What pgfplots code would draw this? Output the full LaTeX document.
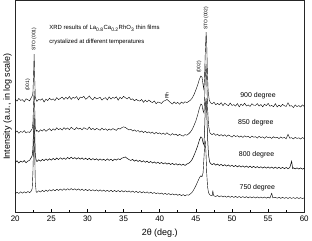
\documentclass[border=0pt]{standalone}
\usepackage{pgfplots}
\pgfplotsset{compat=1.18}
\usepackage{fontspec}
\setmainfont{Liberation Sans}
\begin{document}
\begin{tikzpicture}
\begin{axis}[
  scale only axis, width=290pt, height=213pt,
  xmin=20, xmax=60, ymin=0, ymax=213,
  xtick={20,25,...,60}, minor x tick num=1,
  ytick=\empty,
  xtick pos=bottom, tick align=inside,
  major tick length=4pt, minor tick length=3pt,
  tick style={black, line width=0.6pt},
  axis line style={line width=0.6pt, black!85},
  ticklabel style={font=\fontsize{8}{9}\selectfont},
  /pgf/number format/assume math mode=true,
  xlabel={2θ (deg.)},
  xlabel style={font=\fontsize{9}{10}\selectfont},
  ylabel={Intensity (a.u., in log scale)},
  ylabel style={font=\fontsize{9}{10}\selectfont},
  cycle list={{black, mark=none, line width=0.5pt, line join=round}},
]
% 900 degree
\addplot coordinates {
(20.00,113.8)(20.25,111.8)(20.50,114.5)(20.75,112.6)(21.00,113.3)(21.25,111.2)(21.50,114.1)(21.75,113.2)(22.00,112.1)
(22.20,115.0)(22.35,117)(22.45,120)(22.55,140)(22.62,159)(22.70,135)(22.78,116)(22.90,113)
(23.00,111.6)(23.25,113.6)(23.50,112.8)(23.75,114.3)(24.00,110.9)(24.25,113.9)(24.50,112.4)(24.75,114.7)(25.00,113.0)
(25.25,114.1)(25.50,112.5)(25.75,115.4)(26.00,113.4)(26.25,114.6)(26.50,115.9)(26.75,113.5)(27.00,115.7)(27.25,114.0)
(27.50,116.5)(27.75,113.6)(28.00,115.7)(28.25,114.7)(28.50,116.4)(28.75,113.1)(29.00,115.9)(29.25,115.3)(29.50,116.6)
(29.75,113.7)(30.00,115.0)(30.25,117.0)(30.50,114.5)(30.75,113.2)(31.00,115.8)(31.25,114.1)(31.50,114.8)(31.75,115.6)
(32.00,112.9)(32.25,114.5)(32.50,115.3)(32.75,113.0)(33.00,116.1)(33.25,113.9)(33.50,115.5)(33.75,114.7)(34.00,116.2)
(34.25,112.8)(34.50,115.7)(34.75,114.3)(35.00,116.6)(35.25,115.2)(35.50,114.0)(35.75,115.9)(36.00,113.4)(36.25,114.1)
(36.50,112.2)(36.75,113.6)(37.00,112.4)(37.25,111.9)(37.50,113.5)(37.75,110.6)(38.00,112.8)(38.25,111.1)(38.50,113.0)
(38.75,111.3)(39.00,110.3)(39.25,112.1)(39.50,109.2)(39.75,111.0)(40.00,110.4)(40.25,109.5)(40.50,111.7)(40.75,112.4)
(41.00,113.5)(41.25,112.0)(41.50,110.3)(41.75,108.9)(42.00,111.0)(42.25,109.4)(42.50,110.6)(42.75,108.7)(43.00,110.9)
(43.25,109.6)(43.50,111.2)(43.75,110.3)(44.00,111.5)(44.25,112.8)(44.50,115.0)(44.75,118.5)(45.00,123)(45.25,128)
(45.50,134)(45.70,137)(45.85,136)(46.00,128)(46.10,124)(46.20,135)(46.30,160)(46.42,181)(46.50,170)(46.60,140)
(46.70,122)(46.85,113)(47.00,110.5)(47.25,109.0)(47.50,110.8)(47.75,108.2)(48.00,109.6)(48.25,108.1)(48.50,110.3)
(48.75,107.3)(49.00,109.7)(49.25,108.4)(49.50,107.2)(49.75,109.9)(50.00,107.5)(50.25,108.3)(50.50,106.9)(50.75,109.4)
(51.00,106.1)(51.25,108.9)(51.50,107.4)(51.75,109.7)(52.00,107.0)(52.25,108.0)(52.50,106.5)(52.75,109.2)(53.00,107.8)
(53.25,107.6)(53.50,109.4)(53.75,106.9)(54.00,108.5)(54.25,106.1)(54.50,108.7)(54.75,107.3)(55.00,109.6)(55.25,106.7)
(55.50,107.5)(55.75,106.2)(56.00,109.3)(56.25,106.0)(56.50,107.9)(56.75,106.4)(57.00,108.6)(57.25,107.2)(57.50,106.5)
(57.75,110.2)(58.00,106.8)(58.25,107.3)(58.50,105.4)(58.75,108.0)(59.00,106.3)(59.25,107.4)(59.50,105.9)(59.75,108.1)
(60.00,106.5)
};
% 850 degree
\addplot coordinates {
(20.00,80.2)(20.25,82.0)(20.50,79.6)(20.75,81.4)(21.00,80.5)(21.25,82.3)(21.50,79.9)(21.75,81.1)(22.00,80.4)
(22.20,82.5)(22.35,84)(22.45,90)(22.55,110)(22.62,122)(22.70,105)(22.78,86)(22.90,81.5)
(23.00,82.6)(23.25,80.9)(23.50,83.1)(23.75,81.8)(24.00,83.7)(24.25,81.5)(24.50,83.0)(24.75,84.2)(25.00,82.1)
(25.25,84.0)(25.50,82.7)(25.75,85.1)(26.00,83.2)(26.25,84.4)(26.50,82.8)(26.75,85.3)(27.00,83.6)(27.25,84.9)
(27.50,83.1)(27.75,85.6)(28.00,84.0)(28.25,83.3)(28.50,85.4)(28.75,83.8)(29.00,84.7)(29.25,83.0)(29.50,85.2)
(29.75,84.1)(30.00,83.5)(30.25,85.8)(30.50,83.2)(30.75,84.6)(31.00,82.9)(31.25,84.4)(31.50,83.7)(31.75,82.6)
(32.00,84.8)(32.25,83.0)(32.50,84.1)(32.75,82.4)(33.00,83.9)(33.25,82.7)(33.50,84.3)(33.75,83.4)(34.00,82.5)
(34.25,84.6)(34.50,83.8)(34.75,85.2)(35.00,86.0)(35.25,85.4)(35.50,84.1)(35.75,82.9)(36.00,83.6)(36.25,81.8)
(36.50,83.0)(36.75,81.5)(37.00,82.4)(37.25,80.7)(37.50,81.9)(37.75,80.3)(38.00,81.6)(38.25,79.9)(38.50,81.1)
(38.75,79.6)(39.00,80.8)(39.25,78.9)(39.50,80.5)(39.75,79.2)(40.00,80.0)(40.25,78.6)(40.50,79.8)(40.75,78.3)
(41.00,80.1)(41.25,78.5)(41.50,77.6)(41.75,79.3)(42.00,77.9)(42.25,78.8)(42.50,77.1)(42.75,78.6)(43.00,77.4)
(43.25,76.8)(43.50,78.3)(43.75,77.6)(44.00,79.0)(44.25,80.8)(44.50,83.5)(44.75,87.5)(45.00,92)(45.25,98)
(45.50,105)(45.70,109)(45.85,108)(46.00,102)(46.12,100)(46.22,115)(46.32,140)(46.42,149)(46.52,130)(46.62,105)
(46.75,88)(46.90,81)(47.00,79.5)(47.25,78.2)(47.50,79.4)(47.75,77.5)(48.00,78.7)(48.25,77.0)(48.50,78.3)
(48.75,76.8)(49.00,78.1)(49.25,76.4)(49.50,77.9)(49.75,76.9)(50.00,75.8)(50.25,77.6)(50.50,76.3)(50.75,77.2)
(51.00,75.7)(51.25,76.9)(51.50,75.4)(51.75,77.0)(52.00,75.9)(52.25,76.6)(52.50,75.1)(52.75,76.8)(53.00,75.6)
(53.25,76.2)(53.50,74.8)(53.75,76.5)(54.00,75.3)(54.25,76.0)(54.50,74.6)(54.75,76.3)(55.00,75.1)(55.25,75.8)
(55.50,74.4)(55.75,76.1)(56.00,74.9)(56.25,75.6)(56.50,74.3)(56.75,75.9)(57.00,74.7)(57.25,75.4)(57.50,74.1)
(57.75,78.5)(58.00,74.6)(58.25,75.2)(58.50,73.9)(58.75,75.5)(59.00,74.4)(59.25,75.1)(59.50,73.8)(59.75,75.3)
(60.00,74.2)
};
% 800 degree
\addplot coordinates {
(20.00,50.3)(20.25,52.0)(20.50,49.8)(20.75,51.6)(21.00,50.6)(21.25,52.2)(21.50,50.0)(21.75,51.7)(22.00,52.5)
(22.20,55.0)(22.35,57)(22.45,64)(22.55,85)(22.62,98)(22.70,80)(22.78,58)(22.90,52.5)
(23.00,51.2)(23.25,53.0)(23.50,51.6)(23.75,53.4)(24.00,52.1)(24.25,53.8)(24.50,52.4)(24.75,54.0)(25.00,52.6)
(25.25,54.3)(25.50,53.0)(25.75,54.7)(26.00,53.2)(26.25,55.0)(26.50,53.5)(26.75,54.8)(27.00,53.4)(27.25,55.3)
(27.50,53.9)(27.75,55.6)(28.00,54.0)(28.25,55.2)(28.50,53.7)(28.75,55.1)(29.00,53.6)(29.25,54.9)(29.50,53.3)
(29.75,54.6)(30.00,53.1)(30.25,54.5)(30.50,52.8)(30.75,54.2)(31.00,52.9)(31.25,54.0)(31.50,52.5)(31.75,53.8)
(32.00,52.6)(32.25,53.5)(32.50,52.2)(32.75,53.9)(33.00,52.4)(33.25,53.6)(33.50,52.0)(33.75,53.7)(34.00,52.7)
(34.25,54.0)(34.50,53.1)(34.75,54.6)(35.00,55.2)(35.25,55.8)(35.50,54.3)(35.75,53.2)(36.00,52.3)(36.25,53.4)
(36.50,51.6)(36.75,52.8)(37.00,51.3)(37.25,52.4)(37.50,50.8)(37.75,52.0)(38.00,50.5)(38.25,51.6)(38.50,50.1)
(38.75,51.3)(39.00,49.8)(39.25,50.9)(39.50,49.4)(39.75,50.6)(40.00,49.2)(40.25,50.3)(40.50,48.9)(40.75,50.0)
(41.00,48.6)(41.25,49.7)(41.50,48.2)(41.75,49.4)(42.00,48.0)(42.25,49.1)(42.50,47.7)(42.75,48.8)(43.00,47.5)
(43.25,48.6)(43.50,47.3)(43.75,48.7)(44.00,49.5)(44.25,51.0)(44.50,53.5)(44.75,57.5)(45.00,62)(45.25,67)
(45.50,73)(45.70,76)(45.85,75)(46.00,70)(46.12,68)(46.22,85)(46.32,108)(46.42,115)(46.52,98)(46.62,75)
(46.75,58)(46.90,51)(47.00,49.6)(47.25,48.1)(47.50,49.3)(47.75,47.6)(48.00,48.7)(48.25,47.2)(48.50,48.4)
(48.75,46.9)(49.00,48.1)(49.25,46.6)(49.50,47.8)(49.75,46.4)(50.00,47.5)(50.25,46.1)(50.50,47.3)(50.75,45.9)
(51.00,47.1)(51.25,45.7)(51.50,46.9)(51.75,45.5)(52.00,46.7)(52.25,45.3)(52.50,46.6)(52.75,45.2)(53.00,46.4)
(53.25,45.0)(53.50,46.2)(53.75,44.9)(54.00,46.0)(54.25,44.7)(54.50,45.9)(54.75,44.6)(55.00,45.8)(55.25,44.5)
(55.50,45.7)(55.75,44.4)(56.00,45.6)(56.25,44.3)(56.50,45.5)(56.75,44.2)(57.00,45.4)(57.25,44.1)(57.50,45.3)
(57.75,44.0)(58.00,45.2)(58.25,51.5)(58.40,44.2)(58.50,45.0)(58.75,43.8)(59.00,44.9)(59.25,43.7)(59.50,44.8)
(59.75,43.6)(60.00,44.5)
};
% 750 degree
\addplot coordinates {
(20.00,18.8)(20.25,20.5)(20.50,19.2)(20.75,20.9)(21.00,19.5)(21.25,21.0)(21.50,19.6)(21.75,21.2)(22.00,20.0)
(22.20,21.5)(22.35,24)(22.45,40)(22.55,70)(22.62,82)(22.70,60)(22.78,30)(22.90,21.0)
(23.00,20.2)(23.25,22.0)(23.50,20.6)(23.75,22.3)(24.00,21.0)(24.25,22.6)(24.50,21.3)(24.75,23.0)(25.00,21.6)
(25.25,23.2)(25.50,21.9)(25.75,23.5)(26.00,22.1)(26.25,23.7)(26.50,22.3)(26.75,23.9)(27.00,22.5)(27.25,24.0)
(27.50,22.6)(27.75,24.1)(28.00,22.7)(28.25,23.9)(28.50,22.5)(28.75,23.8)(29.00,22.3)(29.25,23.6)(29.50,22.1)
(29.75,23.4)(30.00,21.9)(30.25,23.2)(30.50,21.8)(30.75,23.0)(31.00,21.6)(31.25,22.9)(31.50,21.5)(31.75,22.8)
(32.00,21.4)(32.25,22.6)(32.50,21.2)(32.75,22.5)(33.00,21.1)(33.25,22.4)(33.50,21.0)(33.75,22.3)(34.00,20.9)
(34.25,22.2)(34.50,20.8)(34.75,22.1)(35.00,20.7)(35.25,22.0)(35.50,20.6)(35.75,21.8)(36.00,20.4)(36.25,21.6)
(36.50,20.2)(36.75,21.4)(37.00,20.0)(37.25,21.2)(37.50,19.8)(37.75,21.0)(38.00,19.6)(38.25,20.8)(38.50,19.4)
(38.75,20.5)(39.00,19.2)(39.25,20.2)(39.50,18.9)(39.75,19.9)(40.00,18.6)(40.25,19.7)(40.50,18.3)(40.75,19.4)
(41.00,18.1)(41.25,19.2)(41.50,17.8)(41.75,18.9)(42.00,17.6)(42.25,18.7)(42.50,17.3)(42.75,18.4)(43.00,17.0)
(43.25,18.1)(43.50,16.8)(43.75,17.9)(44.00,17.5)(44.25,18.8)(44.50,20.5)(44.75,23.5)(45.00,27)(45.25,31)
(45.50,35)(45.70,37)(45.85,36)(46.00,40)(46.12,55)(46.22,68)(46.30,72)(46.40,60)(46.50,40)(46.62,26)
(46.75,20)(46.90,18.2)(47.00,17.5)(47.25,16.8)(47.35,22.0)(47.45,17.0)(47.75,16.1)(48.00,17.2)(48.25,15.8)
(48.50,16.9)(48.75,15.6)(49.00,16.7)(49.25,15.4)(49.50,16.5)(49.75,15.3)(50.00,16.4)(50.25,15.2)(50.50,16.3)
(50.75,15.1)(51.00,16.2)(51.25,15.0)(51.50,16.1)(51.75,14.9)(52.00,16.0)(52.25,14.8)(52.50,15.9)(52.75,14.8)
(53.00,15.8)(53.25,14.7)(53.50,15.8)(53.75,14.6)(54.00,15.7)(54.25,14.6)(54.50,15.6)(54.75,14.5)(55.00,15.6)
(55.25,14.5)(55.50,19.5)(55.65,14.8)(56.00,15.4)(56.25,14.4)(56.50,15.4)(56.75,14.3)(57.00,15.3)(57.25,14.3)
(57.50,15.2)(57.75,14.2)(58.00,15.2)(58.25,14.2)(58.50,15.1)(58.75,14.1)(59.00,15.1)(59.25,14.1)(59.50,15.0)
(59.75,14.0)(60.00,14.9)
};
\begin{scope}[font=\fontsize{5}{6}\selectfont]
\node[rotate=90, anchor=west, inner sep=1pt] at (axis cs:22.62,161) {STO (001)};
\node[rotate=90, anchor=west, inner sep=1pt] at (axis cs:21.75,121) {(001)};
\node[rotate=90, anchor=west, inner sep=1pt] at (axis cs:40.97,113) {Rh};
\node[rotate=90, anchor=west, inner sep=1pt] at (axis cs:45.45,139) {(002)};
\node[rotate=90, anchor=west, inner sep=1pt] at (axis cs:46.42,182) {STO (002)};
\end{scope}
\node[anchor=west, font=\fontsize{6}{7}\selectfont, inner sep=0pt] at (axis cs:24.7,185) {XRD results of La\textsubscript{0.8}Ca\textsubscript{0.2}RhO\textsubscript{3} thin films};
\node[anchor=west, font=\fontsize{6}{7}\selectfont, inner sep=0pt] at (axis cs:24.7,171) {crystalized at different temperatures};
\begin{scope}[font=\fontsize{7}{8}\selectfont]
\node at (axis cs:53.6,117) {900 degree};
\node at (axis cs:53.3,90) {850 degree};
\node at (axis cs:53.4,58) {800 degree};
\node at (axis cs:53.5,25) {750 degree};
\end{scope}
\end{axis}
\end{tikzpicture}
\end{document}
